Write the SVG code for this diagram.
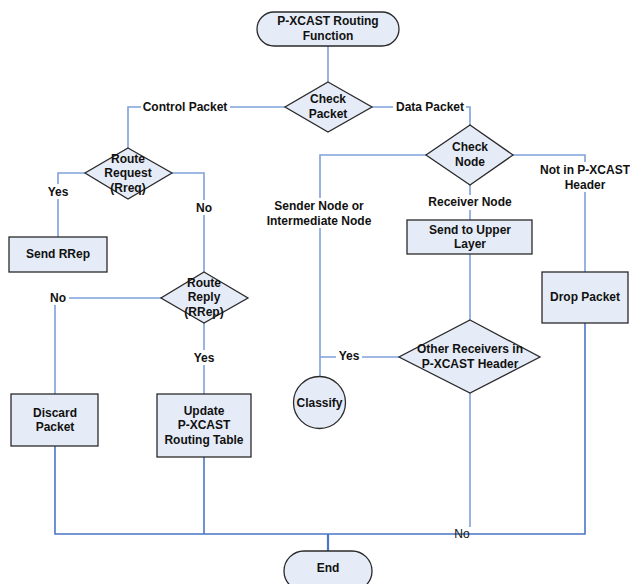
<svg xmlns="http://www.w3.org/2000/svg" width="630" height="584" viewBox="0 0 630 584">
<defs>
<style>
.n{fill:#E6ECF7;stroke:#2a2a2a;stroke-width:1.3}
.c{fill:none;stroke:#7FA1DB;stroke-width:1.6}
.cb{fill:none;stroke:#4A76C6;stroke-width:1.6}
text{font-family:"Liberation Sans",Arial,sans-serif;font-size:12px;font-weight:bold;fill:#111;text-anchor:middle}
.lb{fill:#fff;stroke:none}
</style>
</defs>
<g id="connectors">
<path class="c" d="M328,46V82"/>
<path class="c" d="M285,107H128V148"/>
<path class="c" d="M372,107H470V125"/>
<path class="c" d="M85,173H58V237"/>
<path class="c" d="M172,173H204V272"/>
<path class="c" d="M161,298H55V394"/>
<path class="c" d="M204,323V394"/>
<path class="c" d="M426,155H320V377"/>
<path class="c" d="M470,185V220"/>
<path class="c" d="M470,254V320"/>
<path class="c" d="M399,357H320"/>
<path class="c" d="M513,155H585V272"/>
<path class="c" d="M470,393V527"/>
<path class="cb" d="M55,446V534H585V323"/>
<path class="cb" d="M204,457V534"/>
<path class="cb" d="M328,534V551" style="stroke-width:2.2"/>
<rect class="lb" x="141" y="99" width="89" height="15"/>
<text x="185" y="111">Control Packet</text>
<rect class="lb" x="393" y="99" width="73" height="15"/>
<text x="430" y="111">Data Packet</text>
<rect class="lb" x="45" y="184" width="26" height="15"/>
<text x="58" y="196">Yes</text>
<rect class="lb" x="193" y="200" width="22" height="15"/>
<text x="204" y="212">No</text>
<rect class="lb" x="47" y="290" width="22" height="15"/>
<text x="58" y="302">No</text>
<rect class="lb" x="191" y="350" width="26" height="15"/>
<text x="204" y="362">Yes</text>
<rect class="lb" x="263" y="198" width="114" height="30"/>
<text x="319" y="210">Sender Node or</text>
<text x="319" y="225">Intermediate Node</text>
<rect class="lb" x="424" y="195" width="92" height="15"/>
<text x="470" y="206">Receiver Node</text>
<rect class="lb" x="336" y="348" width="26" height="15"/>
<text x="349" y="360">Yes</text>
<rect class="lb" x="537" y="162" width="96" height="30"/>
<text x="585" y="174">Not in P-XCAST</text>
<text x="585" y="189">Header</text>
<text x="462" y="538" style="font-weight:normal">No</text>
</g>
<g id="start">
<rect class="n" x="257" y="12" width="142" height="34" rx="17"/>
<text x="328" y="25">P-XCAST Routing</text>
<text x="328" y="40">Function</text>
</g>
<g id="check-packet">
<polygon class="n" points="328,82 372,107 328,132 285,107"/>
<text x="328" y="103">Check</text>
<text x="328" y="118">Packet</text>
</g>
<g id="route-request">
<polygon class="n" points="128,148 172,173 128,199 85,173"/>
<text x="128" y="163">Route</text>
<text x="128" y="177">Request</text>
<text x="128" y="192">(Rreq)</text>
</g>
<g id="send-rrep">
<rect class="n" x="9" y="237" width="98" height="35"/>
<text x="58" y="258">Send RRep</text>
</g>
<g id="route-reply">
<polygon class="n" points="204,272 248,298 204,323 161,298"/>
<text x="204" y="287">Route</text>
<text x="204" y="301">Reply</text>
<text x="204" y="316">(RRep)</text>
</g>
<g id="discard-packet">
<rect class="n" x="11" y="394" width="87" height="52"/>
<text x="55" y="417">Discard</text>
<text x="55" y="431">Packet</text>
</g>
<g id="update-table">
<rect class="n" x="157" y="394" width="94" height="63"/>
<text x="204" y="415">Update</text>
<text x="204" y="429">P-XCAST</text>
<text x="204" y="444">Routing Table</text>
</g>
<g id="check-node">
<polygon class="n" points="470,125 513,155 470,185 426,155"/>
<text x="470" y="151">Check</text>
<text x="470" y="166">Node</text>
</g>
<g id="send-upper">
<rect class="n" x="407" y="220" width="125" height="34"/>
<text x="470" y="234">Send to Upper</text>
<text x="470" y="248">Layer</text>
</g>
<g id="other-receivers">
<polygon class="n" points="470,320 540,357 470,393 399,357"/>
<text x="470" y="353">Other Receivers in</text>
<text x="470" y="368">P-XCAST Header</text>
</g>
<g id="classify">
<circle class="n" cx="319.5" cy="402.5" r="26"/>
<text x="319.5" y="407">Classify</text>
</g>
<g id="drop-packet">
<rect class="n" x="542" y="272" width="86" height="51"/>
<text x="585" y="301">Drop Packet</text>
</g>
<g id="end">
<rect class="n" x="284" y="551" width="88" height="40" rx="20"/>
<text x="328" y="572">End</text>
</g>
</svg>
